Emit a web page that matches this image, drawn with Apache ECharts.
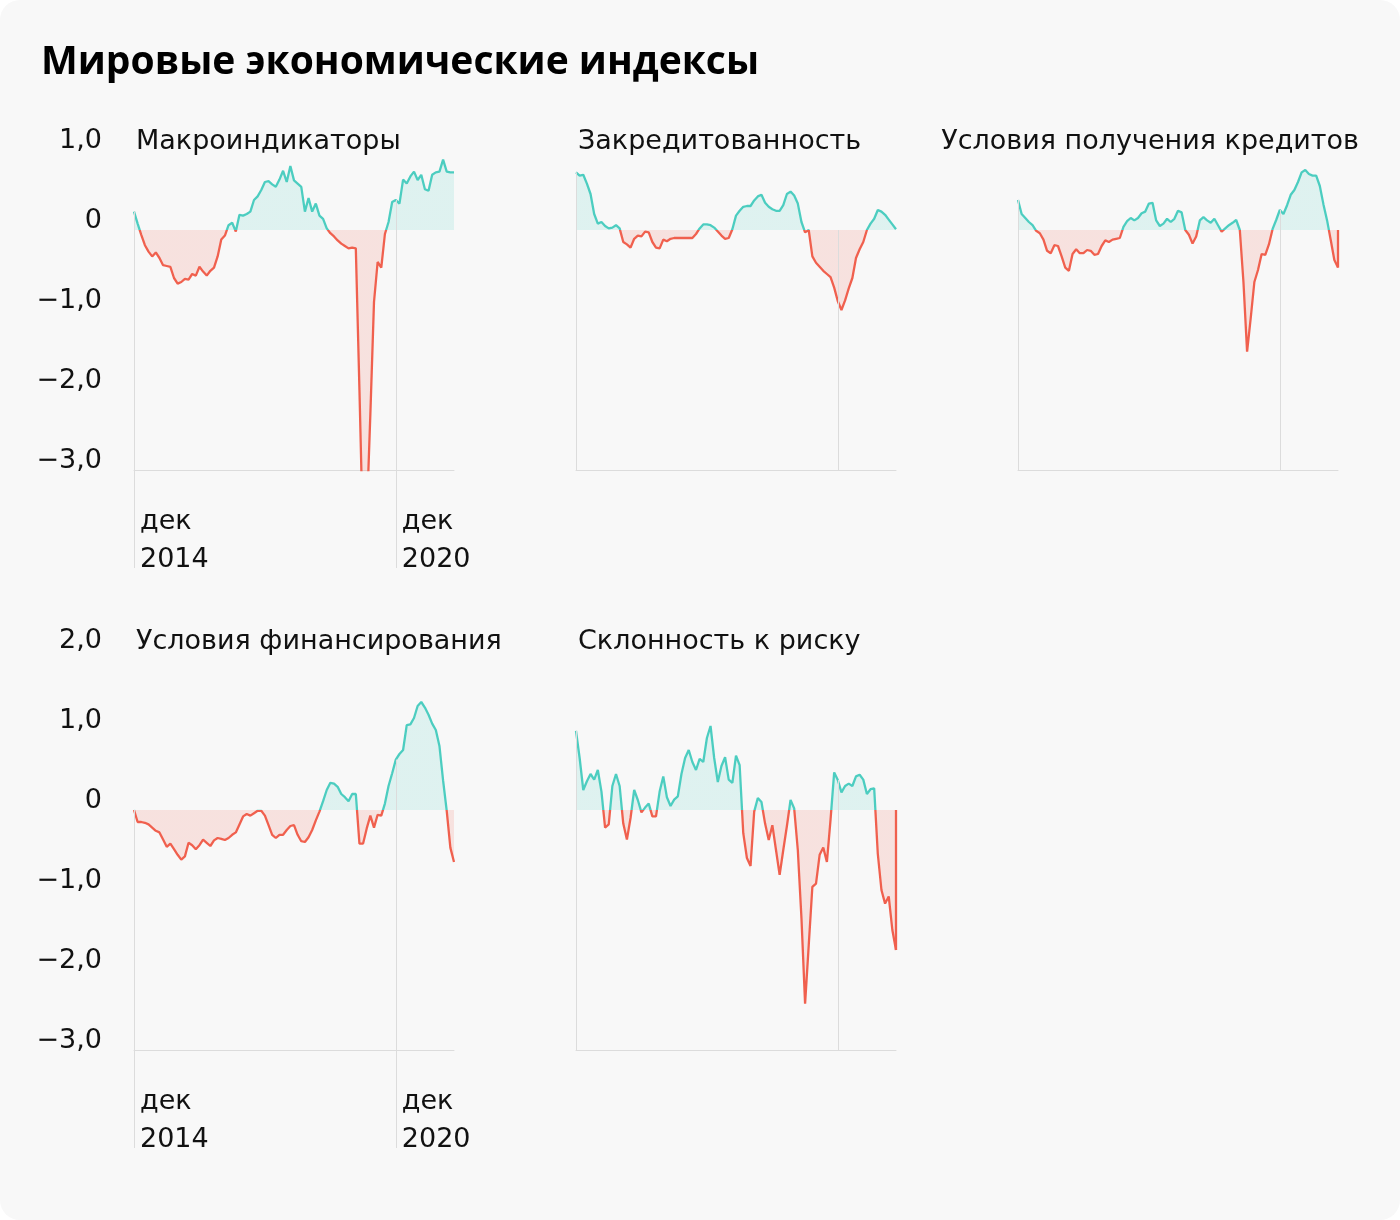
<!DOCTYPE html>
<html><head><meta charset="utf-8">
<script src="https://cdn.jsdelivr.net/npm/echarts@6/dist/echarts.min.js"></script>
<style>
html,body{margin:0;padding:0;background:#ffffff;}
#chart{width:1400px;height:1220px;background:#f8f8f8;border-radius:20px;overflow:hidden;}
</style></head><body><div id="chart"></div>
<script>
// ---- categories: monthly, Dec 2014 .. Apr 2022 ----
const months = [];
for (let y = 2014, m = 12; months.length < 89; ) {
  months.push(y + '-' + String(m).padStart(2, '0'));
  m++; if (m > 12) { m = 1; y++; }
}
// ---- x tick labels ----
const xTickIndex = [0, 72];
const xTickText = ['дек\n2014', 'дек\n2020'];
// ---- y tick labels ----
const yTicksTop = [-3, -2, -1, 0, 1];
const yTickTextTop = ['−3,0', '−2,0', '−1,0', '0', '1,0'];
const yTicksBottom = [-3, -2, -1, 0, 1, 2];
const yTickTextBottom = ['−3,0', '−2,0', '−1,0', '0', '1,0', '2,0'];

// ---- series values ----
const macro = [0.23,0.08,-0.06,-0.19,-0.27,-0.33,-0.28,-0.35,-0.44,-0.45,
  -0.46,-0.60,-0.67,-0.65,-0.61,-0.62,-0.55,-0.57,-0.46,-0.52,
  -0.57,-0.51,-0.47,-0.33,-0.12,-0.07,0.06,0.09,-0.02,0.19,
  0.18,0.20,0.23,0.375,0.42,0.50,0.60,0.61,0.57,0.54,
  0.63,0.74,0.60,0.80,0.62,0.58,0.54,0.23,0.40,0.23,
  0.33,0.18,0.14,0.02,-0.04,-0.08,-0.13,-0.17,-0.20,-0.23,
  -0.22,-0.23,-2.0,-3.9,-3.6,-2.3,-0.9,-0.40,-0.47,-0.05,
  0.10,0.35,0.375,0.33,0.63,0.58,0.67,0.73,0.625,0.69,
  0.51,0.49,0.69,0.72,0.73,0.88,0.73,0.72,0.72];
const leverage = [0.72,0.68,0.69,0.58,0.45,0.20,0.08,0.10,0.05,0.02,
  0.03,0.06,0.02,-0.15,-0.18,-0.22,-0.11,-0.07,-0.08,-0.02,
  -0.03,-0.15,-0.22,-0.23,-0.12,-0.14,-0.11,-0.10,-0.10,-0.10,
  -0.10,-0.10,-0.10,-0.05,0.02,0.07,0.07,0.06,0.03,-0.02,
  -0.07,-0.11,-0.10,0.01,0.18,0.24,0.29,0.30,0.30,0.37,
  0.42,0.44,0.34,0.29,0.26,0.24,0.24,0.31,0.45,0.48,
  0.43,0.33,0.10,-0.03,0.0,-0.33,-0.41,-0.46,-0.51,-0.55,
  -0.59,-0.72,-0.89,-1.0,-0.88,-0.73,-0.60,-0.35,-0.24,-0.15,
  0.0,0.08,0.14,0.25,0.23,0.19,0.13,0.07,0.01];
const creditConditions = [0.375,0.20,0.15,0.10,0.06,-0.01,-0.04,-0.12,-0.26,-0.29,
  -0.19,-0.20,-0.33,-0.47,-0.51,-0.30,-0.24,-0.29,-0.29,-0.25,
  -0.26,-0.31,-0.30,-0.20,-0.13,-0.15,-0.12,-0.11,-0.10,0.04,
  0.11,0.15,0.12,0.15,0.21,0.23,0.33,0.34,0.12,0.05,
  0.08,0.14,0.10,0.14,0.24,0.22,0.0,-0.06,-0.17,-0.08,
  0.12,0.16,0.12,0.09,0.14,0.06,-0.02,0.02,0.06,0.09,
  0.125,0.0,-0.65,-1.52,-1.10,-0.65,-0.50,-0.30,-0.31,-0.18,
  0.01,0.125,0.25,0.20,0.31,0.44,0.50,0.60,0.72,0.75,
  0.70,0.68,0.68,0.55,0.32,0.12,-0.125,-0.375,-0.47];
const financing = [0,-0.15,-0.15,-0.16,-0.18,-0.22,-0.26,-0.28,-0.37,-0.46,
  -0.42,-0.49,-0.56,-0.62,-0.58,-0.41,-0.44,-0.49,-0.44,-0.37,
  -0.41,-0.45,-0.38,-0.35,-0.36,-0.375,-0.35,-0.31,-0.28,-0.18,
  -0.08,-0.05,-0.07,-0.04,-0.01,-0.01,-0.07,-0.19,-0.31,-0.35,
  -0.31,-0.31,-0.25,-0.20,-0.19,-0.31,-0.39,-0.40,-0.34,-0.25,
  -0.13,-0.02,0.11,0.25,0.34,0.33,0.29,0.20,0.16,0.11,
  0.20,0.20,-0.42,-0.42,-0.23,-0.07,-0.22,-0.06,-0.07,0.08,
  0.30,0.46,0.63,0.70,0.75,1.06,1.07,1.15,1.30,1.35,
  1.28,1.19,1.08,1.0,0.80,0.37,-0.01,-0.47,-0.65];
const riskAppetite = [0.99,0.65,0.25,0.36,0.45,0.38,0.50,0.23,-0.22,-0.18,
  0.30,0.45,0.30,-0.17,-0.37,-0.10,0.25,0.125,-0.03,0.03,
  0.08,-0.08,-0.08,0.23,0.42,0.16,0.05,0.13,0.17,0.45,
  0.65,0.75,0.60,0.50,0.64,0.60,0.90,1.05,0.65,0.35,
  0.55,0.66,0.38,0.34,0.68,0.56,-0.29,-0.60,-0.70,-0.02,
  0.15,0.10,-0.17,-0.375,-0.19,-0.50,-0.81,-0.50,-0.20,0.125,
  0.02,-0.50,-1.35,-2.42,-1.69,-0.96,-0.92,-0.56,-0.47,-0.65,
  -0.12,0.47,0.375,0.22,0.30,0.33,0.30,0.42,0.44,0.38,
  0.20,0.26,0.27,-0.55,-1.0,-1.17,-1.08,-1.50,-1.75];

const TEAL = '#4ccdc0';
const RED = '#f0604e';
const AXIS = '#dcdcdc';
const FONT = 'DejaVu Sans';
const TITLE_FONT = 'Open Sans';
const FS = 27;

const panels = [
  {title: 'Макроиндикаторы', data: macro, box: {left: 134, top: 150}, h: 320, ymin: -3, ymax: 1,
    ticks: yTicksTop, tickText: yTickTextTop, yLabels: true, xLabels: true, t: {left: 131, top: 121}, closeEnd: false},
  {title: 'Закредитованность', data: leverage, box: {left: 576, top: 150}, h: 320, ymin: -3, ymax: 1,
    ticks: yTicksTop, tickText: yTickTextTop, yLabels: false, xLabels: false, t: {left: 573, top: 121}, closeEnd: false},
  {title: 'Условия получения кредитов', data: creditConditions, box: {left: 1018, top: 150}, h: 320, ymin: -3, ymax: 1,
    ticks: yTicksTop, tickText: yTickTextTop, yLabels: false, xLabels: false, t: {right: 36, top: 121}, closeEnd: true},
  {title: 'Условия финансирования', data: financing, box: {left: 134, top: 650}, h: 400, ymin: -3, ymax: 2,
    ticks: yTicksBottom, tickText: yTickTextBottom, yLabels: true, xLabels: true, t: {left: 131, top: 621}, closeEnd: false},
  {title: 'Склонность к риску', data: riskAppetite, box: {left: 576, top: 650}, h: 400, ymin: -3, ymax: 2,
    ticks: yTicksBottom, tickText: yTickTextBottom, yLabels: false, xLabels: false, t: {left: 573, top: 621}, closeEnd: true}
];

const showTick = (idx) => xTickIndex.indexOf(idx) >= 0;

const option = {
  animation: false,
  backgroundColor: 'transparent',
  textStyle: {fontFamily: FONT},
  title: [{text: 'Мировые экономические индексы', left: 36, top: 38,
    textStyle: {fontFamily: TITLE_FONT, fontSize: 39, fontWeight: 'bold', color: '#000'}}]
    .concat(panels.map(p => Object.assign({text: p.title,
      textStyle: {fontFamily: FONT, fontSize: FS, fontWeight: 'normal', color: '#111', lineHeight: 32}}, p.t))),
  grid: panels.map(p => ({left: p.box.left, top: p.box.top, width: 320, height: p.h, containLabel: false})),
  xAxis: panels.map((p, i) => ({
    type: 'category', gridIndex: i, data: months, boundaryGap: false,
    axisLine: {show: true, onZero: false, lineStyle: {color: AXIS, width: 1}},
    axisTick: {show: p.xLabels, interval: (idx) => showTick(idx), length: 98, lineStyle: {color: AXIS, width: 1}},
    axisLabel: {show: p.xLabels, interval: (idx) => showTick(idx),
      formatter: (v, idx) => { const k = xTickIndex.indexOf(idx); return k >= 0 ? xTickText[k] : ''; },
      align: 'left', margin: 33, padding: [0, 0, 0, 6], fontSize: FS, lineHeight: 38, color: '#111', fontFamily: FONT},
    splitLine: {show: false}
  })),
  yAxis: panels.map((p, i) => ({
    type: 'value', gridIndex: i, min: p.ymin, max: p.ymax, interval: 1,
    axisLine: {show: false}, axisTick: {show: false}, splitLine: {show: false},
    axisLabel: {show: p.yLabels, margin: 32, fontSize: FS, color: '#111', fontFamily: FONT,
      verticalAlign: 'bottom', lineHeight: 18,
      formatter: (v) => { const k = p.ticks.indexOf(v); return k >= 0 ? p.tickText[k] : ''; }}
  })),
  visualMap: panels.map((p, i) => ({
    type: 'piecewise', show: false, seriesIndex: i, dimension: 1,
    pieces: [{gt: -100, lte: 0, color: RED}, {gt: 0, lte: 100, color: TEAL}]
  })),
  series: panels.map((p, i) => {
    const d = p.data;
    const lines = xTickIndex.map(k => [
      {coord: [months[k], Math.max(d[k], 0)]},
      {coord: [months[k], p.ymin]}
    ]);
    if (p.closeEnd) {
      const last = d.length - 1;
      lines.push([
        {coord: [months[last], d[last]], lineStyle: {color: d[last] > 0 ? TEAL : RED, width: 2.3}},
        {coord: [months[last], 0]}
      ]);
    }
    return {
      type: 'line', xAxisIndex: i, yAxisIndex: i, data: d,
      symbol: 'none', showSymbol: false, clip: true,
      lineStyle: {width: 2.3},
      areaStyle: {opacity: 0.15},
      emphasis: {disabled: true},
      markLine: {silent: true, symbol: ['none', 'none'], label: {show: false},
        lineStyle: {color: AXIS, width: 1, type: 'solid'}, emphasis: {disabled: true},
        animation: false, data: lines}
    };
  })
};

const chart = echarts.init(document.getElementById('chart'), null, {renderer: 'canvas'});
chart.setOption(option);
</script>
</body></html>
